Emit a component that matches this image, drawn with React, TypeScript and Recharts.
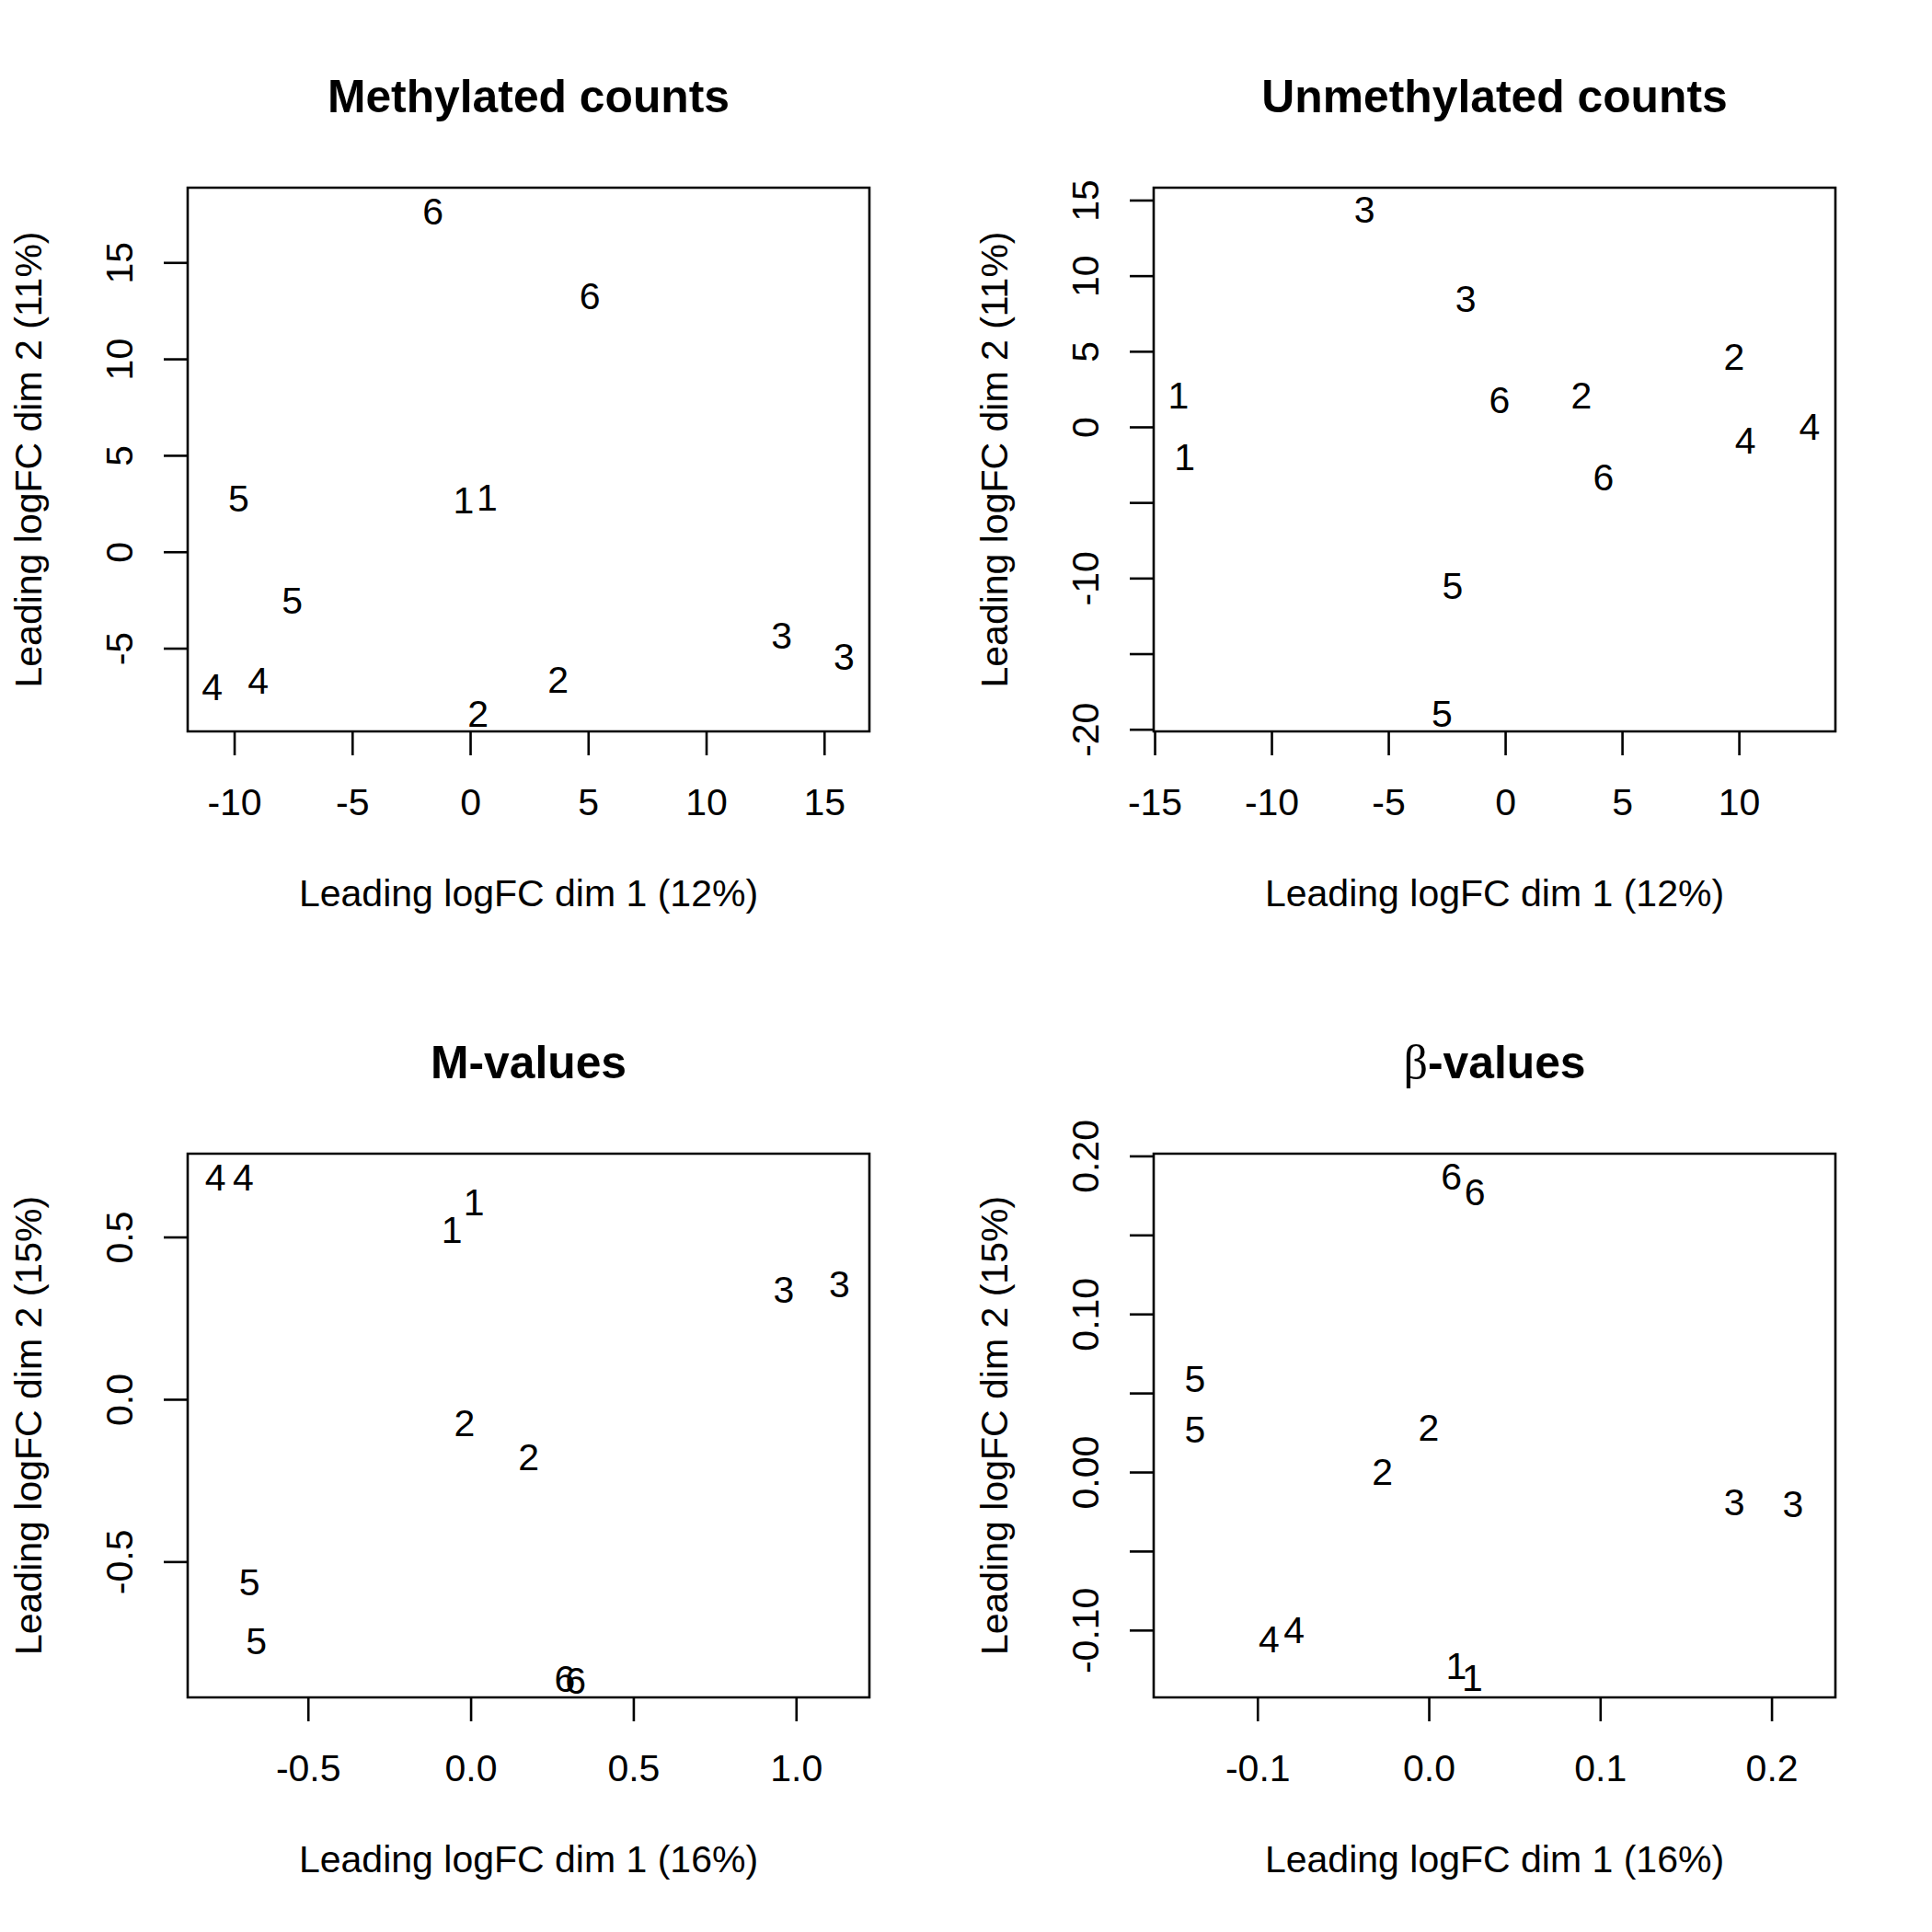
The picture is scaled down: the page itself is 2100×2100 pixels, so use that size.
import React from "react";
import { ScatterChart, Scatter, XAxis, YAxis, ReferenceArea } from "recharts";

// sample group labels and MDS coordinates, one set per panel
const methLabels = ["6", "6", "1", "1", "5", "5", "4", "4", "2", "2", "3", "3"];
const methDim1 = [-1.59, 5.05, -0.3, 0.7, -9.83, -7.56, -10.95, -9.0, 0.32, 3.71, 13.18, 15.82];
const methDim2 = [17.7, 13.33, 2.73, 2.87, 2.81, -2.46, -6.97, -6.64, -8.33, -6.56, -4.29, -5.38];

const unmethLabels = ["3", "3", "2", "1", "6", "2", "4", "4", "1", "6", "5", "5"];
const unmethDim1 = [-6.04, -1.71, 9.78, -14.0, -0.26, 3.24, 13.0, 10.26, -13.74, 4.19, -2.27, -2.72];
const unmethDim2 = [14.46, 8.52, 4.68, 2.16, 1.82, 2.16, 0.07, -0.84, -1.96, -3.25, -10.44, -18.89];

const mLabels = ["4", "4", "1", "1", "3", "3", "2", "2", "5", "5", "6", "6"];
const mDim1 = [-0.786, -0.7, 0.009, -0.059, 0.961, 1.132, -0.02, 0.177, -0.681, -0.66, 0.288, 0.321];
const mDim2 = [0.687, 0.687, 0.609, 0.524, 0.341, 0.357, -0.07, -0.174, -0.56, -0.742, -0.857, -0.864];

const betaLabels = ["6", "6", "5", "5", "2", "2", "3", "3", "4", "4", "1", "1"];
const betaDim1 = [0.013, 0.0266, -0.1367, -0.1367, -0.0004, -0.0273, 0.178, 0.2122, -0.0935, -0.0788, 0.0158, 0.0252];
const betaDim2 = [0.1877, 0.1777, 0.0598, 0.0274, 0.0287, 0.0007, -0.0187, -0.0194, -0.1049, -0.0995, -0.1222, -0.1296];

// axis ticks
const methXTicks = [-10, -5, 0, 5, 10, 15];
const methYTicks = [-5, 0, 5, 10, 15];
const unmethXTicks = [-15, -10, -5, 0, 5, 10];
const unmethYTicks = [-20, -15, -10, -5, 0, 5, 10, 15];
const unmethYLabeled = [-20, -10, 0, 5, 10, 15];
const mXTicks = [-0.5, 0, 0.5, 1];
const mYTicks = [-0.5, 0, 0.5];
const betaXTicks = [-0.1, 0, 0.1, 0.2];
const betaYTicks = [-0.1, -0.05, 0, 0.05, 0.1, 0.15, 0.2];
const betaYLabeled = [-0.1, 0, 0.1, 0.2];

const FONT = '"Liberation Sans", Arial, Helvetica, sans-serif';
const LAB_SIZE = 41;
const TITLE_SIZE = 49.8;
const LW = 2.6;

const zip = (labels: string[], xs: number[], ys: number[]) =>
  labels.map((label, i) => ({ label, x: xs[i], y: ys[i] }));

const renderLabel = (props: any) => (
  <text
    x={props.cx}
    y={props.cy}
    dy="0.36em"
    textAnchor="middle"
    fontFamily={FONT}
    fontSize={LAB_SIZE}
    fill="#000"
  >
    {props.payload.label}
  </text>
);

interface PanelProps {
  left: number;
  top: number;
  title: React.ReactNode;
  xLabel: string;
  yLabel: string;
  data: { label: string; x: number; y: number }[];
  xDomain: [number, number];
  yDomain: [number, number];
  xTicks: number[];
  yTicks: number[];
  yLabeled?: number[];
  xDigits: number;
  yDigits: number;
}

function Panel(p: PanelProps) {
  const W = 1050;
  const plotL = 204, plotR = 945, plotT = 204, plotB = 795;
  const cx = (plotL + plotR) / 2;
  const cy = (plotT + plotB) / 2;
  const labeled = p.yLabeled || p.yTicks;

  const yTick = (props: any) => {
    const { x, y, payload } = props;
    if (!labeled.includes(payload.value)) return <g />;
    return (
      <text
        x={x}
        y={y}
        transform={`rotate(-90 ${x} ${y})`}
        textAnchor="middle"
        fontFamily={FONT}
        fontSize={LAB_SIZE}
        fill="#000"
      >
        {payload.value.toFixed(p.yDigits)}
      </text>
    );
  };

  return (
    <div style={{ position: "absolute", left: p.left, top: p.top, width: W, height: W }}>
      <ScatterChart width={W} height={W} margin={{ top: plotT, right: W - plotR, bottom: 5, left: 4 }}>
        <XAxis
          type="number"
          dataKey="x"
          domain={p.xDomain}
          ticks={p.xTicks}
          interval={0}
          allowDataOverflow
          height={W - plotB - 5}
          axisLine={false}
          tickLine={{ stroke: "#000", strokeWidth: LW }}
          tickSize={26}
          tickMargin={36}
          tickFormatter={(v: number) => v.toFixed(p.xDigits)}
          tick={{ fill: "#000", fontSize: LAB_SIZE, fontFamily: FONT }}
        />
        <YAxis
          type="number"
          dataKey="y"
          domain={p.yDomain}
          ticks={p.yTicks}
          interval={0}
          allowDataOverflow
          width={plotL - 4}
          axisLine={false}
          tickLine={{ stroke: "#000", strokeWidth: LW }}
          tickSize={26}
          tickMargin={34}
          tick={yTick}
        />
        <ReferenceArea
          x1={p.xDomain[0]}
          x2={p.xDomain[1]}
          y1={p.yDomain[0]}
          y2={p.yDomain[1]}
          fill="none"
          stroke="#000"
          strokeWidth={LW}
          ifOverflow="visible"
        />
        <Scatter data={p.data} isAnimationActive={false} shape={renderLabel} legendType="none" />
      </ScatterChart>
      <svg
        width={W}
        height={W}
        style={{ position: "absolute", left: 0, top: 0, pointerEvents: "none" }}
      >
        <text x={cx} y={121.5} textAnchor="middle" fontFamily={FONT} fontWeight="bold" fontSize={TITLE_SIZE} fill="#000">
          {p.title}
        </text>
        <text x={cx} y={985} textAnchor="middle" fontFamily={FONT} fontSize={LAB_SIZE} fill="#000">
          {p.xLabel}
        </text>
        <text
          x={45}
          y={cy}
          transform={`rotate(-90 45 ${cy})`}
          textAnchor="middle"
          fontFamily={FONT}
          fontSize={LAB_SIZE}
          fill="#000"
        >
          {p.yLabel}
        </text>
      </svg>
    </div>
  );
}

export default function App() {
  return (
    <div style={{ position: "absolute", left: 0, top: 0, width: 2100, height: 2100, background: "#fff" }}>
      <Panel
        left={0}
        top={0}
        title="Methylated counts"
        xLabel="Leading logFC dim 1 (12%)"
        yLabel="Leading logFC dim 2 (11%)"
        data={zip(methLabels, methDim1, methDim2)}
        xDomain={[-11.99, 16.9]}
        yDomain={[-9.29, 18.9]}
        xTicks={methXTicks}
        yTicks={methYTicks}
        xDigits={0}
        yDigits={0}
      />
      <Panel
        left={1050}
        top={0}
        title="Unmethylated counts"
        xLabel="Leading logFC dim 1 (12%)"
        yLabel="Leading logFC dim 2 (11%)"
        data={zip(unmethLabels, unmethDim1, unmethDim2)}
        xDomain={[-15.06, 14.11]}
        yDomain={[-20.11, 15.85]}
        xTicks={unmethXTicks}
        yTicks={unmethYTicks}
        yLabeled={unmethYLabeled}
        xDigits={0}
        yDigits={0}
      />
      <Panel
        left={0}
        top={1050}
        title="M-values"
        xLabel="Leading logFC dim 1 (16%)"
        yLabel="Leading logFC dim 2 (15%)"
        data={zip(mLabels, mDim1, mDim2)}
        xDomain={[-0.871, 1.224]}
        yDomain={[-0.917, 0.758]}
        xTicks={mXTicks}
        yTicks={mYTicks}
        xDigits={1}
        yDigits={1}
      />
      <Panel
        left={1050}
        top={1050}
        title={
          <>
            <tspan fontFamily='"Liberation Serif", "DejaVu Serif", serif' fontWeight="normal" fontSize={52}>
              β
            </tspan>
            <tspan>-values</tspan>
          </>
        }
        xLabel="Leading logFC dim 1 (16%)"
        yLabel="Leading logFC dim 2 (15%)"
        data={zip(betaLabels, betaDim1, betaDim2)}
        xDomain={[-0.1608, 0.237]}
        yDomain={[-0.1423, 0.2017]}
        xTicks={betaXTicks}
        yTicks={betaYTicks}
        yLabeled={betaYLabeled}
        xDigits={1}
        yDigits={2}
      />
    </div>
  );
}
